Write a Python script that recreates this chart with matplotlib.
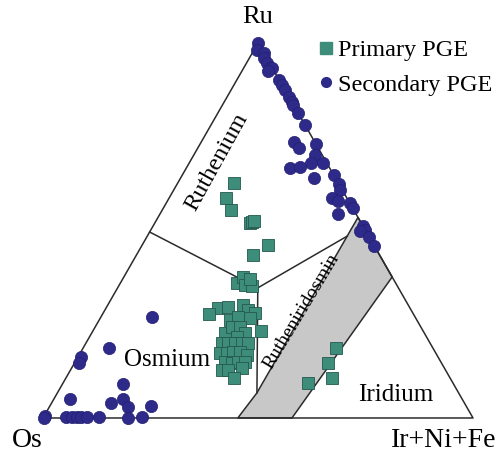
import numpy as np
import matplotlib

matplotlib.use('Agg')
import matplotlib.pyplot as plt
from matplotlib.lines import Line2D

# ── data: ternary compositions in % (Ru, Ir+Ni+Fe); Os = 100 - Ru - Ir ──
sec_ru = [100, 98.1, 97.3, 96.0, 94.7, 93.3, 93.3, 92.5, 90.1, 88.8, 87.5, 85.6, 84.3,
          83.5, 81.3, 78.1, 73.6, 72.0, 73.1, 70.1, 68.0, 68.0, 66.7, 66.9, 64.0, 64.8,
          62.4, 60.8, 58.7, 57.9, 57.3, 56.0, 54.4, 51.2, 50.1, 49.9, 48.3, 45.9,
          26.9, 18.7, 16.3, 14.7, 9.1, 5.1, 4.0, 5.1, 2.9, 3.2, 0.5, 0.0,
          0.3, 0.3, 0.3, 0.3, 0.3, 0.3, 0.0, 0.3]
sec_ir = [0.0, 0.7, 2.7, 3.5, 4.8, 6.2, 6.7, 6.1, 9.9, 11.2, 12.5, 14.4, 15.7,
          16.5, 18.7, 21.9, 21.6, 23.5, 26.9, 28.2, 31.1, 28.3, 24.1, 26.3, 31.0, 35.2,
          37.6, 38.7, 37.8, 39.6, 42.7, 44.0, 41.5, 48.8, 49.9, 48.8, 51.7, 54.1,
          11.9, 6.0, 0.7, 1.0, 14.1, 3.8, 13.8, 16.1, 18.3, 23.5, 0.2, 0.3,
          5.1, 6.5, 7.7, 8.8, 10.0, 12.8, 19.8, 22.9]

pri_ru = [62.7, 58.7, 55.5, 52.0, 52.3, 52.5, 46.1, 43.5, 36.0, 37.6, 35.5, 35.2, 37.1,
          29.3, 27.7, 29.6, 30.1, 28.8, 28.0, 26.1, 26.9, 26.7, 23.2, 22.7, 24.3, 24.3,
          22.7, 21.6, 20.0, 20.0, 20.0, 20.0, 20.0, 17.3, 17.3, 17.6, 17.6, 16.8,
          14.9, 14.7, 14.9, 14.9, 12.8, 12.8, 13.3, 10.7,
          18.7, 14.7, 10.7, 9.3]
pri_ir = [13.1, 13.2, 16.0, 22.1, 22.5, 22.8, 29.3, 27.1, 27.1, 27.7, 29.2, 31.0, 29.6,
          26.0, 24.8, 28.2, 31.5, 33.3, 35.3, 30.4, 31.9, 34.8, 39.1, 31.0, 31.8, 33.7,
          35.6, 34.3, 31.6, 33.0, 34.7, 36.3, 37.7, 32.5, 34.1, 35.4, 37.0, 39.0,
          34.9, 36.6, 37.9, 39.5, 35.2, 36.6, 39.6, 39.1,
          58.8, 58.9, 61.9, 57.0]

# field boundaries (Ru, Ir)
gap_ru = [0.0, 6.7, 53.5, 37.6, 0.0]
gap_ir = [45.3, 46.4, 46.5, 62.4, 57.9]
node = (34.7, 32.6)
os_ru_line = [(49.6, 0.0), node]
os_ir_line = [node, (6.7, 46.4)]
ru_ir_line = [node, (48.5, 46.5)]


def cart(ru, ir):
    ru = np.asarray(ru, float) / 100
    ir = np.asarray(ir, float) / 100
    return ir + ru / 2, ru


plt.rcParams['font.family'] = ['Liberation Serif', 'DejaVu Serif']
fig = plt.figure(figsize=(5.01, 4.55), dpi=100)
ax = fig.add_axes([0, 0, 1, 1])
ax.set_xlim(-0.1, 1.0651)
ax.set_ylim(-0.0987, 1.1147)
ax.axis('off')

line_kw = dict(color='#2b2b2b', lw=1.1, zorder=2)

# miscibility gap
gx, gy = cart(gap_ru, gap_ir)
ax.fill(gx, gy, facecolor='#c8c8c8', edgecolor='#2b2b2b', lw=1.1, zorder=1)

# outer triangle
tx, ty = cart([0, 0, 100, 0], [0, 100, 0, 0])
ax.plot(tx, ty, **line_kw)

for seg in (os_ru_line, os_ir_line, ru_ir_line):
    sx, sy = cart([p[0] for p in seg], [p[1] for p in seg])
    ax.plot(sx, sy, **line_kw)

px, py = cart(pri_ru, pri_ir)
ax.plot(px, py, 's', ms=8.3, color='#3e8d7b', mec='#24594d', mew=0.6, ls='none', zorder=3)
cx, cy = cart(sec_ru, sec_ir)
ax.plot(cx, cy, 'o', ms=8.8, color='#2d2a8a', mec='#221f70', mew=0.5, ls='none', zorder=4)

# labels
ax.text(0.5, 1.07, 'Ru', fontsize=19, ha='center', va='center')
ax.text(-0.037, -0.059, 'Os', fontsize=20, ha='center', va='center')
ax.text(0.933, -0.059, 'Ir+Ni+Fe', fontsize=20, ha='center', va='center')
ax.text(0.405, 0.682, 'Ruthenium', fontsize=17.5, rotation=61, ha='center', va='center',
        rotation_mode='anchor')
ax.text(0.288, 0.155, 'Osmium', fontsize=18, ha='center', va='center')
ax.text(0.60, 0.283, 'Rutheniridosmin', fontsize=14, rotation=59, ha='center', va='center',
        rotation_mode='anchor')
ax.text(0.821, 0.061, 'Iridium', fontsize=18, ha='center', va='center')

handles = [
    Line2D([], [], marker='s', ls='none', ms=8.5, color='#3e8d7b', mec='#3e8d7b'),
    Line2D([], [], marker='o', ls='none', ms=7, color='#2d2a8a', mec='#2d2a8a'),
]
ax.legend(handles, ['Primary PGE', 'Secondary PGE'], loc='upper left',
          bbox_to_anchor=(0.612, 0.94), frameon=False, fontsize=17.5,
          handlelength=0.6, handletextpad=0.2, labelspacing=0.5, borderpad=0)

fig.savefig('out.png', dpi=100)
